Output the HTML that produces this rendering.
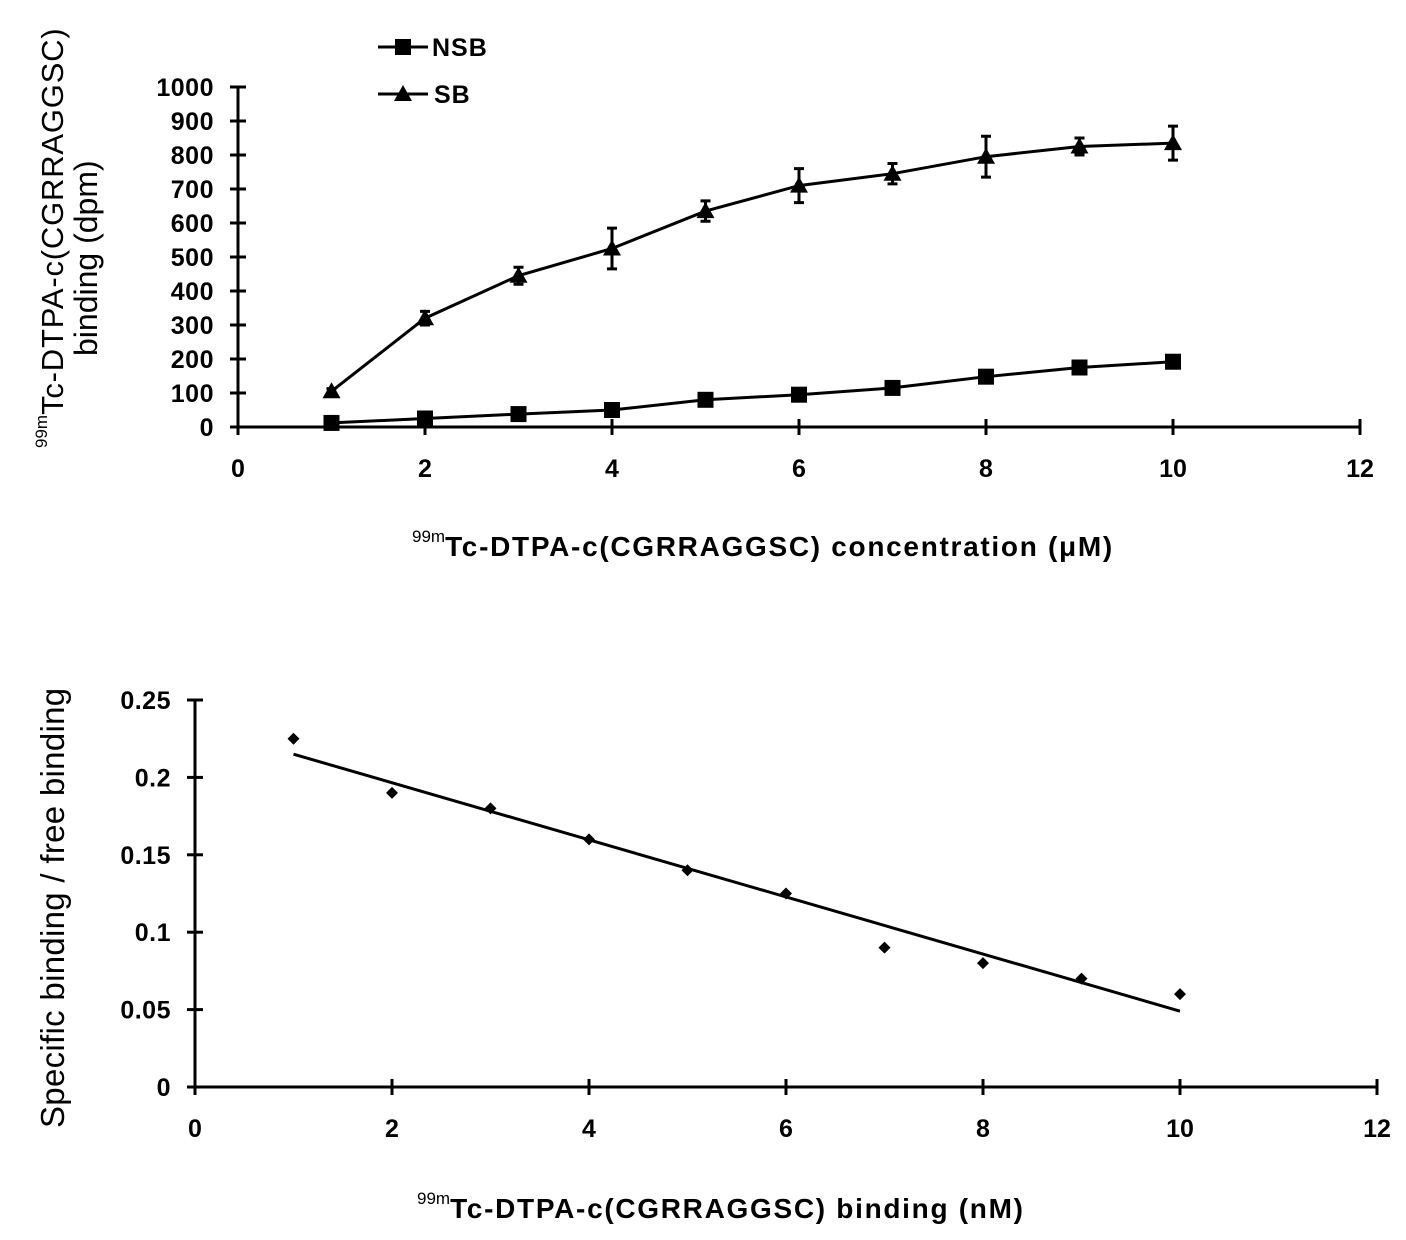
<!DOCTYPE html>
<html><head><meta charset="utf-8"><style>
body{margin:0;background:#fff;}
svg{display:block;font-family:"Liberation Sans",Arial,sans-serif;font-weight:bold;}
</style></head><body>
<svg id="s" width="1406" height="1240" viewBox="0 0 1406 1240"></svg>
<script>
const xCats=[1,2,3,4,5,6,7,8,9,10];
const sbVals=[105,320,445,525,635,710,745,795,825,835];
const sbErr=[8,20,25,60,30,50,30,60,25,50];
const nsbVals=[12,25,38,50,80,95,115,148,175,192];
const topYTicks=[0,100,200,300,400,500,600,700,800,900,1000];
const topXTicks=[0,2,4,6,8,10,12];
const ratioVals=[0.225,0.19,0.18,0.16,0.14,0.125,0.09,0.08,0.07,0.06];
const fitStart=[1,0.215];
const fitEnd=[10,0.049];
const botYTicks=[0,0.05,0.1,0.15,0.2,0.25];
const botXTicks=[0,2,4,6,8,10,12];

const NS='http://www.w3.org/2000/svg';
const svg=document.getElementById('s');
function mk(t,a,p){const e=document.createElementNS(NS,t);for(const k in a)e.setAttribute(k,a[k]);(p||svg).appendChild(e);return e;}

const tx=v=>238+v*(1360-238)/12, ty=v=>427-v*(427-87)/1000;
const bx=v=>195+v*(1377-195)/12, by=v=>1087-v*(1087-700)/0.25;

function axes(fx,fy,xt,yt,xmax,ymax,ylab,name){
  const g=mk('g',{});
  
  
  mk('line',{x1:fx(0),y1:fy(0),x2:fx(xmax),y2:fy(0),stroke:'#000','stroke-width':3},g);
  mk('line',{x1:fx(0),y1:fy(0),x2:fx(0),y2:fy(ymax),stroke:'#000','stroke-width':3},g);
  yt.forEach(v=>{
    mk('line',{x1:fx(0)-8,x2:fx(0)+8,y1:fy(v),y2:fy(v),stroke:'#000','stroke-width':3},g);
    const t=mk('text',{x:fx(0)-24,y:fy(v)+9,'text-anchor':'end','font-size':25,'letter-spacing':0.5},g);t.textContent=ylab(v);
    
    
  });
  xt.forEach(v=>{
    mk('line',{x1:fx(v),x2:fx(v),y1:fy(0)-8,y2:fy(0)+8,stroke:'#000','stroke-width':3},g);
    const t=mk('text',{x:fx(v),y:fy(0)+50,'text-anchor':'middle','font-size':25},g);t.textContent=v;
    
    
  });
}
axes(tx,ty,topXTicks,topYTicks,12,1000,v=>v,'top-chart');
axes(bx,by,botXTicks,botYTicks,12,0.25,v=>String(+v.toFixed(2)),'bottom-chart');

function poly(fx,fy,xs,ys,name){
  const p=mk('polyline',{points:xs.map((x,i)=>fx(x)+','+fy(ys[i])).join(' '),fill:'none',stroke:'#000','stroke-width':3});
  
  
}
poly(tx,ty,xCats,sbVals,'sb-line');
poly(tx,ty,xCats,nsbVals,'nsb-line');
xCats.forEach((x,i)=>{
  const cx=tx(x),cy=ty(sbVals[i]),e=sbErr[i];
  const eb=mk('path',{d:`M${cx},${ty(sbVals[i]+e)}V${ty(sbVals[i]-e)}M${cx-5},${ty(sbVals[i]+e)}h10M${cx-5},${ty(sbVals[i]-e)}h10`,stroke:'#000','stroke-width':3,fill:'none'});
  
  
  const m=mk('polygon',{points:`${cx},${cy-9} ${cx-9},${cy+7} ${cx+9},${cy+7}`,fill:'#000'});
  
  
  const n=mk('rect',{x:tx(x)-8,y:ty(nsbVals[i])-8,width:16,height:16,fill:'#000'});
  
  
});
const lg=mk('g',{});


mk('line',{x1:378,x2:428,y1:47,y2:47,stroke:'#000','stroke-width':3},lg);
mk('rect',{x:395,y:39,width:16,height:16,fill:'#000'},lg);
let t=mk('text',{x:432,y:56,'font-size':25,'letter-spacing':1},lg);t.textContent='NSB';
mk('line',{x1:378,x2:428,y1:94,y2:94,stroke:'#000','stroke-width':3},lg);
mk('polygon',{points:'403,85 394,101 412,101',fill:'#000'},lg);
t=mk('text',{x:434,y:103,'font-size':25,'letter-spacing':1},lg);t.textContent='SB';

t=mk('text',{x:412,y:556,'font-size':28,'letter-spacing':1.7});
t.innerHTML='<tspan font-size="17" dy="-14" font-weight="normal" letter-spacing="0">99m</tspan><tspan dy="14">Tc-DTPA-c(CGRRAGGSC) concentration (μM)</tspan>';


t=mk('text',{transform:'translate(63,448) rotate(-90)','font-size':31,'font-weight':'normal','letter-spacing':0.8});
t.innerHTML='<tspan font-size="17" dy="-16" letter-spacing="0">99m</tspan><tspan dy="16">Tc-DTPA-c(CGRRAGGSC)</tspan>';


t=mk('text',{transform:'translate(97,356) rotate(-90)','font-size':32,'font-weight':'normal'});
t.textContent='binding (dpm)';

xCats.forEach((x,i)=>{
  const cx=bx(x),cy=by(ratioVals[i]);
  const d=mk('polygon',{points:`${cx},${cy-6} ${cx+6},${cy} ${cx},${cy+6} ${cx-6},${cy}`,fill:'#000'});
  
  
});
const fl=mk('line',{x1:bx(fitStart[0]),y1:by(fitStart[1]),x2:bx(fitEnd[0]),y2:by(fitEnd[1]),stroke:'#000','stroke-width':3});


t=mk('text',{x:417,y:1218,'font-size':28,'letter-spacing':1.7});
t.innerHTML='<tspan font-size="17" dy="-14" font-weight="normal" letter-spacing="0">99m</tspan><tspan dy="14">Tc-DTPA-c(CGRRAGGSC) binding (nM)</tspan>';


t=mk('text',{transform:'translate(64,1128) rotate(-90)','font-size':33,'font-weight':'normal','letter-spacing':0.3});
t.textContent='Specific binding / free binding';


</script>
</body></html>
